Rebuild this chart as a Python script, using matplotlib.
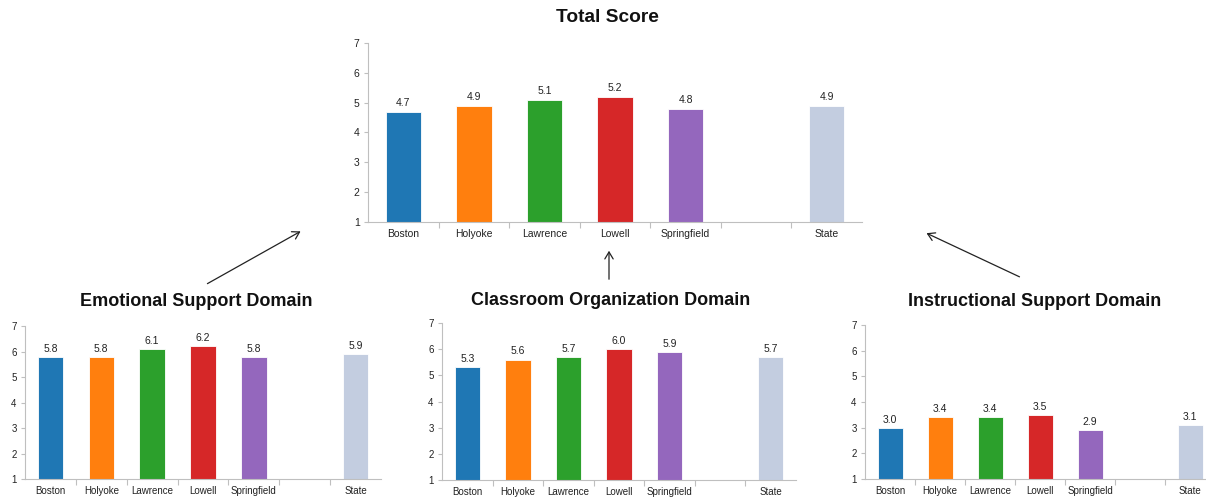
import matplotlib
matplotlib.use("Agg")
import matplotlib.pyplot as plt

plt.rcParams['font.family'] = ['Liberation Sans', 'DejaVu Sans']

categories = ["Boston", "Holyoke", "Lawrence", "Lowell", "Springfield", "", "State"]
total_score = [4.7, 4.9, 5.1, 5.2, 4.8, None, 4.9]
emotional = [5.8, 5.8, 6.1, 6.2, 5.8, None, 5.9]
classroom = [5.3, 5.6, 5.7, 6.0, 5.9, None, 5.7]
instructional = [3.0, 3.4, 3.4, 3.5, 2.9, None, 3.1]
yticks = [1, 2, 3, 4, 5, 6, 7]

colors = ["#1f77b4", "#ff7f0e", "#2ca02c", "#d62728", "#9467bd", "#ffffff", "#c3cde0"]
W, H = 1206, 498
fig = plt.figure(figsize=(W / 100, H / 100), dpi=100)


def panel(rect, values, bar_w, fs_tick, fs_val):
    ax = fig.add_axes(rect)
    xs = [i for i, v in enumerate(values) if v is not None]
    hs = [values[i] - 1 for i in xs]
    cs = [colors[i] for i in xs]
    ax.bar(xs, hs, bottom=1, width=bar_w, color=cs, edgecolor="white", linewidth=0.6)
    for i in xs:
        ax.text(i, values[i] + 0.12, f"{values[i]:.1f}", ha="center", va="bottom",
                fontsize=fs_val, color="#222222")
    ax.set_xlim(-0.5, len(categories) - 0.5)
    ax.set_ylim(1, 7)
    ax.set_yticks(yticks)
    ax.set_xticks(range(len(categories)))
    ax.set_xticklabels(categories)
    ax.set_xticks([i + 0.5 for i in range(len(categories) - 1)], minor=True)
    ax.tick_params(axis="x", which="major", length=0, labelsize=fs_tick, pad=5, colors="#222222")
    ax.tick_params(axis="x", which="minor", length=4, color="#bfbfbf", width=0.8)
    ax.tick_params(axis="y", length=3, color="#bfbfbf", labelsize=fs_tick, labelcolor="#222222", pad=3)
    for s in ["top", "right"]:
        ax.spines[s].set_visible(False)
    for s in ["left", "bottom"]:
        ax.spines[s].set_color("#bfbfbf")
        ax.spines[s].set_linewidth(0.8)
    return ax


panel([368 / W, 1 - 222 / H, 494 / W, (222 - 43) / H], total_score, 0.5, 7.5, 7.5)
panel([25 / W, 1 - 479 / H, 356 / W, (479 - 326) / H], emotional, 0.5, 7, 7.5)
panel([442 / W, 1 - 480 / H, 354 / W, (480 - 323) / H], classroom, 0.5, 7, 7.5)
panel([865 / W, 1 - 479 / H, 350 / W, (479 - 325) / H], instructional, 0.5, 7, 7.5)

titles = [("Total Score", 607, 18, 13.8), ("Emotional Support Domain", 196, 301, 13),
          ("Classroom Organization Domain", 611, 300, 13), ("Instructional Support Domain", 1035, 301, 13)]
for t, x, y, fs in titles:
    fig.text(x / W, 1 - y / H, t, ha="center", va="center", fontsize=fs, fontweight="bold", color="#111111")

arrows = [((205, 285), (303, 230)), ((609, 282), (609, 248)), ((1022, 278), (924, 232))]
for (x0, y0), (x1, y1) in arrows:
    fig.add_artist(matplotlib.patches.FancyArrowPatch(
        (x0 / W, 1 - y0 / H), (x1 / W, 1 - y1 / H), transform=fig.transFigure,
        arrowstyle="->,head_length=5,head_width=3", color="#222222", linewidth=0.9))

fig.savefig("out.png", dpi=100)
